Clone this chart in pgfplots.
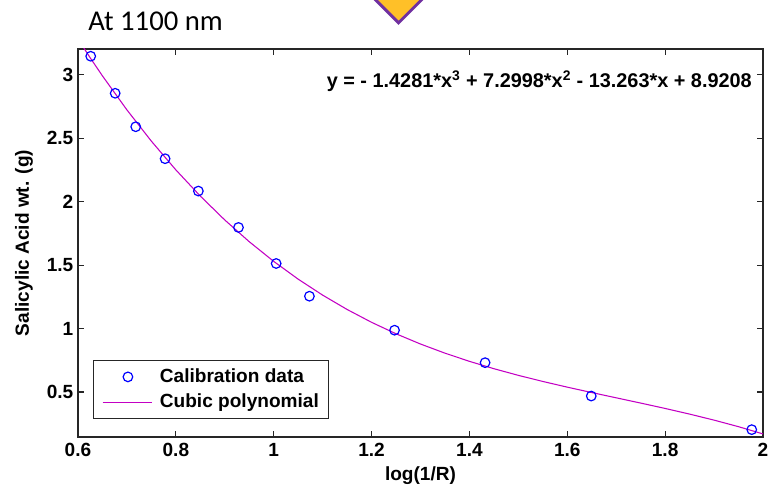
\documentclass[border=0pt]{standalone}
\usepackage{fontspec}
\setmainfont{Liberation Sans}
\newfontfamily\titlefont{Carlito}
\usepackage{pgfplots}
\pgfplotsset{compat=1.18}
\definecolor{fitmag}{RGB}{195,0,195}
\definecolor{ptblue}{RGB}{0,0,255}
\definecolor{boxgray}{RGB}{38,38,38}
\definecolor{gold}{RGB}{255,192,40}
\definecolor{violet}{RGB}{112,48,160}

% wider legend samples, like the MATLAB ones
\pgfplotsset{
  marklegend/.style={legend image code/.code={\path[draw=none,fill=none] (0pt,0pt) -- (43pt,0pt);\draw[##1] plot coordinates {(21pt,0pt)};}},
  linelegend/.style={legend image code/.code={\path[draw=none,fill=none] (0pt,0pt) -- (43pt,0pt);\draw[fitmag,line width=0.8pt] (2pt,0pt) -- (39pt,0pt);}},
}

\begin{document}
\begin{tikzpicture}
% page frame: axis box corner is at the origin, 1px = 0.75pt
\path[use as bounding box] (-58.5pt,-39pt) rectangle (519pt,327.75pt);

% bit of a decoration sticking in from the top of the slide
\draw[violet,line width=2.2pt,fill=gold] (240.4pt,310.6pt) -- ++(45pt,45pt) -- ++(-45pt,45pt) -- ++(-45pt,-45pt) -- cycle;

\node[anchor=base west,inner sep=0pt,font=\titlefont\fontsize{21.5}{24}\selectfont] at (7.5pt,304.5pt) {At 1100 nm};

\begin{axis}[
    at={(0,0)},anchor=south west,
    scale only axis,
    width=513.75pt,height=291pt,
    xmin=0.6,xmax=2,ymin=0.145,ymax=3.204,
    xtick={0.6,0.8,1,1.2,1.4,1.6,1.8,2},
    ytick={0.5,1,1.5,2,2.5,3},
    xticklabels={0.6,0.8,1,1.2,1.4,1.6,1.8,2},
    yticklabels={0.5,1,1.5,2,2.5,3},
    xtick pos=both,ytick pos=both,
    xticklabel pos=bottom,yticklabel pos=left,
    tick align=inside,
    major tick length=4.5pt,
    axis line style={boxgray,line width=0.9pt},
    every tick/.style={boxgray,line width=0.8pt},
    tick label style={font=\fontsize{14.3}{16}\selectfont\bfseries},
    xticklabel style={yshift=-1pt},
    label style={font=\fontsize{14.3}{16}\selectfont\bfseries},
    xlabel={log(1/R)},
    ylabel={Salicylic Acid wt. (g)},
    xlabel style={at={(axis description cs:0.5,-0.1005)},anchor=center},
    ylabel style={at={(axis description cs:-0.079,0.5)},anchor=center},
    legend style={at={(rel axis cs:0.0215,0.046)},anchor=south west,
        draw=boxgray,line width=0.8pt,
        font=\fontsize{14.3}{16}\selectfont\bfseries,
        inner xsep=5pt,inner ysep=4.5pt,row sep=3pt},
    legend cell align=left,
]
\addplot[only marks,mark=o,mark size=3.6pt,ptblue,mark options={line width=0.9pt},marklegend] coordinates {
(0.626,3.147) (0.676,2.855) (0.718,2.591) (0.778,2.339) (0.846,2.084) (0.928,1.797)
(1.005,1.513) (1.073,1.255) (1.247,0.987) (1.432,0.731) (1.649,0.468) (1.977,0.203)
};
\addlegendentry{Calibration data}
\addplot[fitmag,line width=0.8pt,linelegend] coordinates {
(0.60,3.2825) (0.625,3.1343) (0.65,2.9918) (0.70,2.7238) (0.75,2.4772) (0.80,2.2509)
(0.85,2.0443) (0.90,1.8559) (0.95,1.6846) (1.00,1.5295) (1.05,1.3894) (1.10,1.2635)
(1.15,1.1504) (1.20,1.0492) (1.25,0.9587) (1.30,0.8780) (1.35,0.8060) (1.40,0.7415)
(1.45,0.6835) (1.50,0.6310) (1.55,0.5829) (1.60,0.5380) (1.65,0.4954) (1.70,0.4539)
(1.75,0.4125) (1.80,0.3701) (1.85,0.3256) (1.90,0.2780) (1.95,0.2263) (2.00,0.1692)
};
\addlegendentry{Cubic polynomial}
\node[anchor=base east,inner sep=0pt,font=\fontsize{14.9}{16}\selectfont\bfseries]
  at (rel axis cs:0.984,0.9008)
  {y = - 1.4281*x\textsuperscript{3} + 7.2998*x\textsuperscript{2} - 13.263*x + 8.9208};
\end{axis}
\end{tikzpicture}
\end{document}
